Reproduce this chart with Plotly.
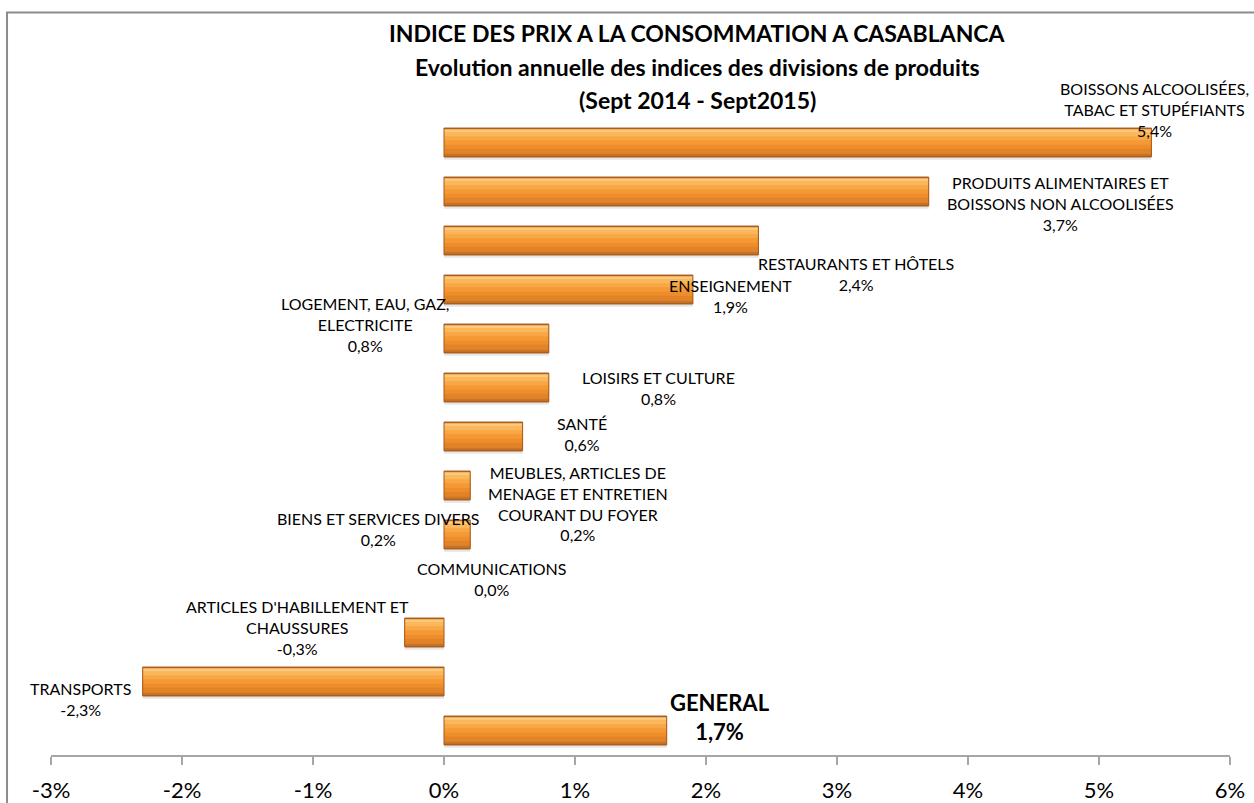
import plotly.graph_objects as go

categories = [
    "BOISSONS ALCOOLISÉES, TABAC ET STUPÉFIANTS",
    "PRODUITS ALIMENTAIRES ET BOISSONS NON ALCOOLISÉES",
    "RESTAURANTS ET HÔTELS",
    "ENSEIGNEMENT",
    "LOGEMENT, EAU, GAZ, ELECTRICITE",
    "LOISIRS ET CULTURE",
    "SANTÉ",
    "MEUBLES, ARTICLES DE MENAGE ET ENTRETIEN COURANT DU FOYER",
    "BIENS ET SERVICES DIVERS",
    "COMMUNICATIONS",
    "ARTICLES D'HABILLEMENT ET CHAUSSURES",
    "TRANSPORTS",
    "GENERAL",
]
values = [5.4, 3.7, 2.4, 1.9, 0.8, 0.8, 0.6, 0.2, 0.2, 0.0, -0.3, -2.3, 1.7]
label_names = [
    "BOISSONS ALCOOLISÉES,<br>TABAC ET STUPÉFIANTS",
    "PRODUITS ALIMENTAIRES ET<br>BOISSONS NON ALCOOLISÉES",
    "RESTAURANTS ET HÔTELS",
    "ENSEIGNEMENT",
    "LOGEMENT, EAU, GAZ,<br>ELECTRICITE",
    "LOISIRS ET CULTURE",
    "SANTÉ",
    "MEUBLES, ARTICLES DE<br>MENAGE ET ENTRETIEN<br>COURANT DU FOYER",
    "BIENS ET SERVICES DIVERS",
    "COMMUNICATIONS",
    "ARTICLES D'HABILLEMENT ET<br>CHAUSSURES",
    "TRANSPORTS",
    "GENERAL",
]
title_lines = [
    "INDICE DES PRIX A LA CONSOMMATION A CASABLANCA",
    "Evolution annuelle des indices des divisions de produits",
    "(Sept 2014 - Sept2015)",
]
x_ticks = [-3, -2, -1, 0, 1, 2, 3, 4, 5, 6]

# label offsets in pixels (x, y) from the bar end, as placed in the original
label_shift = [(3, 33), (132, -12), (98, -33), (38, -6), (-184, 14), (110, 0),
               (59, 3), (108, -18), (-92, 6), (47, 5), (-107, 5), (-62, -17), (53, 14)]

FONT = "Lato"

fig = go.Figure()

# fake bevel / gradient with stacked bars: (top frac, bottom frac, colour)
W = 0.59
bands = [
    (0.08, 1.10, "rgba(90,90,90,0.15)"),
    (0.00, 1.00, "#B9641E"),
    (0.04, 0.90, "#FCC97C"),
    (0.14, 0.88, "#FAB85A"),
    (0.28, 0.88, "#F8A746"),
    (0.42, 0.88, "#F59934"),
    (0.58, 0.88, "#EE8D2B"),
    (0.72, 0.88, "#E38327"),
    (0.88, 0.96, "#C87428"),
]
for f0, f1, col in bands:
    fig.add_trace(go.Bar(
        y=categories, x=values, orientation="h",
        width=(f1 - f0) * W, offset=-W / 2 + f0 * W,
        marker=dict(color=col, line=dict(width=0)),
        hoverinfo="skip", showlegend=False,
    ))
# outline (nothing drawn for a zero value)
fig.add_trace(go.Bar(
    y=categories, x=values, orientation="h", width=W, offset=-W / 2,
    marker=dict(color="rgba(0,0,0,0)",
                line=dict(color="#A8581A", width=[1 if v != 0 else 0 for v in values])),
    hovertemplate="%{y}: %{x:.1f}%<extra></extra>", showlegend=False,
))

for i, (cat, v, name) in enumerate(zip(categories, values, label_names)):
    pct = f"{v:.1f}%".replace(".", ",")
    dx, dy = label_shift[i]
    if cat == "GENERAL":
        txt = f"<b>{name}</b><br><b>{pct}</b>"
        fnt = dict(family=FONT, size=22, color="#000000")
    else:
        txt = f"{name}<br>{pct}"
        fnt = dict(family=FONT, size=16, color="#000000")
    fig.add_annotation(x=v, y=cat, text=txt, showarrow=False, xshift=dx, yshift=dy,
                       font=fnt, align="center", xanchor="center", yanchor="middle")

for line, ypos in zip(title_lines, [1.1327, 1.0808, 1.0275]):
    fig.add_annotation(xref="paper", yref="paper", x=0.548, y=ypos, text=f"<b>{line}</b>",
                       showarrow=False, font=dict(family=FONT, size=23, color="#000000"),
                       xanchor="center", yanchor="middle")

# chart border (left and top are visible)
fig.add_shape(type="rect", xref="paper", yref="paper", x0=-0.0373, y0=-0.3, x1=1.2, y1=1.1656,
              line=dict(color="#8C8C8C", width=2), fillcolor="rgba(0,0,0,0)", layer="below")

fig.update_layout(
    width=1254, height=803,
    margin=dict(l=51, r=24, t=118, b=48),
    paper_bgcolor="white", plot_bgcolor="white",
    barmode="overlay",
    font=dict(family=FONT, color="#000000"),
    xaxis=dict(range=[-3, 6], tickvals=x_ticks, ticktext=[f"{t}%" for t in x_ticks],
               showgrid=False, zeroline=False, showline=True, linecolor="#A6A6A6", linewidth=1.5,
               ticks="outside", ticklen=8, tickcolor="#A6A6A6", tickwidth=1.5, automargin=False,
               tickfont=dict(family=FONT, size=22, color="#000000"), ticklabelstandoff=7),
    yaxis=dict(range=[len(categories) - 0.5, -0.5], showticklabels=False, showgrid=False,
               zeroline=False, showline=False, ticks="", automargin=False),
)

# page has a default 8px body margin; drop it so the figure fills the window
fig.write_html("out.html", config={"displayModeBar": False},
               post_script="document.body.style.margin='0';")
